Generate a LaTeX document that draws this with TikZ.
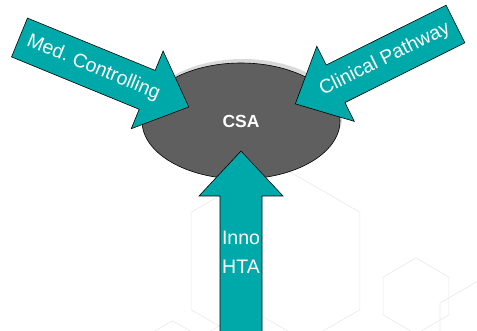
\documentclass[tikz,border=0pt]{standalone}
\usepackage{fontspec}
\setmainfont{Liberation Sans}
\usetikzlibrary{shapes.geometric}
\frenchspacing

\definecolor{arrowteal}{HTML}{00A9A9}
\definecolor{csagray}{HTML}{5F5F5F}
\definecolor{hexgray}{HTML}{E8E8E8}

\tikzset{
  blockarrow/.style={fill=arrowteal, draw=black, line width=0.6pt, line join=miter},
  arrowlabel/.style={text=white, font=\fontsize{19.5}{29}\selectfont, align=center, inner sep=0pt},
  hexa/.style={regular polygon, regular polygon sides=6, shape border rotate=30,
    draw=hexgray, line width=0.6pt, inner sep=0pt},
}

% fat arrow along the local x axis, tail at the origin, tip at (#1,0)
\newcommand{\fatarrow}[1]{%
  \draw[blockarrow] (0,-21) -- (#1-45,-21) -- (#1-45,-42) -- (#1,0)
    -- (#1-45,42) -- (#1-45,21) -- (0,21) -- cycle}

\begin{document}
\begin{tikzpicture}[x=1pt, y=-1pt]
    \useasboundingbox (0,0) rectangle (477,331);

    % faint honeycomb in the background
    \begin{scope}
        \clip (0,0) rectangle (477,331);
        \node[hexa, minimum size=195] (hexbig) at (275.5,261) {};
        \node[hexa, minimum size=76] (hexsmall) at (416,296) {};
        \node[hexa, minimum size=120] (hexright) at (492,333) {};
        \node[hexa, minimum size=244] (hexlow) at (249,430.7) {};
        \node[hexa, minimum size=122] (hexleft) at (172.5,381.8) {};
    \end{scope}

    % central ellipse with its light rim
    \fill[gray!30] (243,117) ellipse [x radius=99, y radius=58];
    \node[ellipse, fill=csagray, draw=black, line width=0.6pt,
          minimum width=198, minimum height=116, inner sep=0pt,
          text=white, font=\bfseries\fontsize{17.5}{20}\selectfont] (csa) at (241,121) {CSA};

    % Med. Controlling
    \begin{scope}[shift={(19.5,37.5)}, rotate=-22.3]
        \fatarrow{183};
        \node[arrowlabel, rotate=-22.3] (medctrl) at (80,0) {Med. Controlling};
    \end{scope}

    % Clinical Pathway
    \begin{scope}[shift={(455.5,24)}, rotate=206.5]
        \fatarrow{179};
        \node[arrowlabel, rotate=26.5] (clinpath) at (79,0) {Clinical Pathway};
    \end{scope}

    % Inno HTA
    \begin{scope}[shift={(241,335)}, rotate=90]
        \fatarrow{184};
        \node[arrowlabel] (innohta) at (83,0) {Inno\\HTA};
    \end{scope}
\end{tikzpicture}
\end{document}
